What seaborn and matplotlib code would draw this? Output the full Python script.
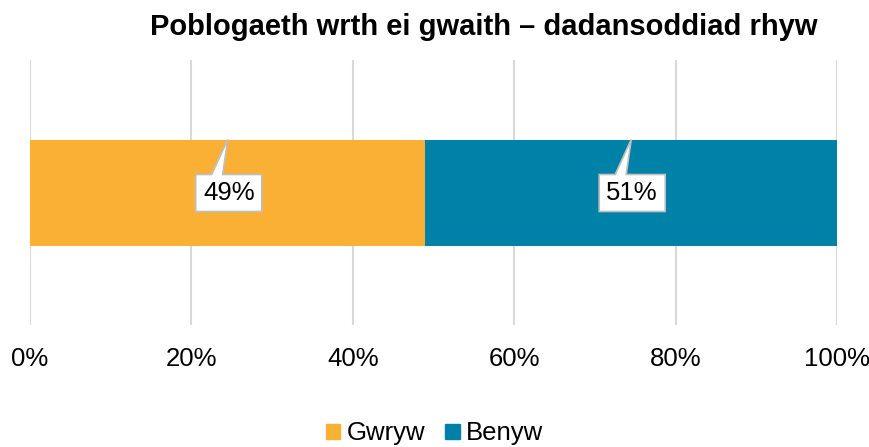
#!/usr/bin/env python3
# Stacked horizontal bar: population in work by sex

import pandas as pd
import matplotlib.pyplot as plt
import matplotlib.transforms as mtransforms
from matplotlib.patches import Polygon, Patch
import seaborn as sns

# ============================================================================
# DATA
# ============================================================================
title = "Poblogaeth wrth ei gwaith – dadansoddiad rhyw"
categories = ["Gwryw", "Benyw"]
shares = [49, 51]
tick_values = [0, 20, 40, 60, 80, 100]
tick_labels = ["0%", "20%", "40%", "60%", "80%", "100%"]

colors = {"Gwryw": "#F9B034", "Benyw": "#0081A7"}

# ============================================================================
# THEME SETTINGS
# ============================================================================
sns.set_theme(style="white")
plt.rcParams['font.family'] = ['Liberation Sans', 'DejaVu Sans']

fig = plt.figure(figsize=(8.69, 4.47), dpi=100)
ax = fig.add_axes([30 / 869, 122 / 447, 807 / 869, 265 / 447])

# cumulative totals for stacking (draw largest first)
cum = pd.Series(shares, index=categories).cumsum()
df = pd.DataFrame({"row": [""], "total": [cum.iloc[-1]], "first": [cum.iloc[0]]})

sns.barplot(data=df, x="total", y="row", orient="h", color=colors["Benyw"],
            width=0.4, saturation=1, linewidth=0, ax=ax, zorder=2)
sns.barplot(data=df, x="first", y="row", orient="h", color=colors["Gwryw"],
            width=0.4, saturation=1, linewidth=0, ax=ax, zorder=3)

ax.set_xlim(0, 100)
ax.set_ylim(0.5, -0.5)
ax.set_xticks(tick_values)
ax.set_xticklabels(tick_labels, fontsize=18.5)
ax.tick_params(axis='x', length=0, pad=16, colors='#000000')
ax.set_yticks([])
ax.set_xlabel("")
ax.set_ylabel("")
ax.grid(axis='x', color='#D9D9D9', linewidth=1.5, zorder=0)
ax.set_axisbelow(True)
for s in ax.spines.values():
    s.set_visible(False)

# callouts: tip at the top of each segment's centre, box below (pixel offsets)
starts = [0] + list(cum.iloc[:-1])
shape = [(0, 0), (-5, -35), (34, -35), (34, -72), (-32, -72), (-32, -35), (-16, -35)]
for start, val in zip(starts, shares):
    xc = start + val / 2
    tr = mtransforms.Affine2D() + mtransforms.ScaledTranslation(xc, -0.2, ax.transData)
    ax.add_patch(Polygon(shape, closed=True, facecolor='white', edgecolor='#BFBFBF',
                         linewidth=1.2, transform=tr, zorder=5, clip_on=False))
    ax.text(1, -54, f"{val}%", transform=tr, ha='center', va='center',
            fontsize=18.5, color='#000000', zorder=6)

fig.text(484 / 869, 1 - 27 / 447, title, ha='center', va='center',
         fontsize=21, fontweight='bold', color='#000000')

handles = [Patch(color=colors[c], label=c) for c in categories]
fig.legend(handles=handles, loc='lower center', bbox_to_anchor=(0.5, -0.048),
           ncol=2, frameon=False, fontsize=18.5, handlelength=0.55, handleheight=0.55,
           handletextpad=0.25, columnspacing=0.8, labelcolor='#000000')

plt.savefig("out.png", dpi=100)
plt.close()
